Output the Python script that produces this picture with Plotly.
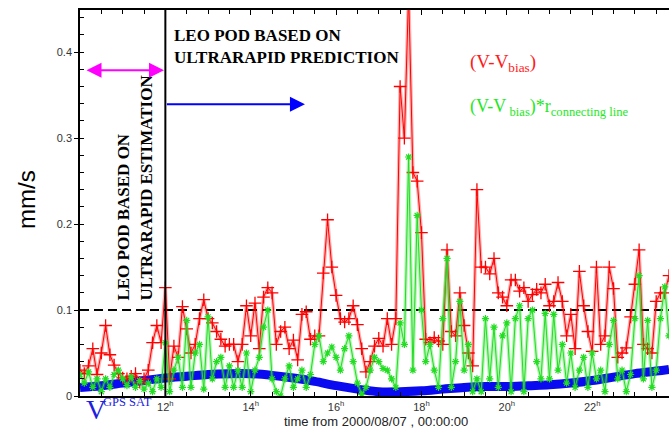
import numpy as np
import plotly.graph_objects as go

# ---------------- data ----------------
hours = np.round(10.0 + 0.1 * np.arange(139), 2)

red = [0.030, 0.026, 0.035, 0.055, 0.025, 0.050, 0.082, 0.048, 0.036, 0.026,
       0.021, 0.020, 0.023, 0.026, 0.016, 0.020, 0.030, 0.062, 0.082, 0.062,
       0.126, 0.020, 0.058, 0.045, 0.104, 0.078, 0.050, 0.060, 0.090, 0.112,
       0.090, 0.085, 0.075, 0.066, 0.058, 0.060, 0.060, 0.040, 0.060, 0.105,
       0.070, 0.108, 0.055, 0.115, 0.126, 0.120, 0.060, 0.075, 0.080, 0.055,
       0.065, 0.042, 0.095, 0.098, 0.066, 0.070, 0.070, 0.143, 0.205, 0.150,
       0.117, 0.090, 0.086, 0.090, 0.105, 0.083, 0.055, 0.028, 0.040, 0.058,
       0.067, 0.058, 0.090, 0.060, 0.090, 0.360, 0.300, 0.470, 0.260, 0.250,
       0.190, 0.066, 0.062, 0.068, 0.064, 0.060, 0.170, 0.075, 0.070, 0.120,
       0.082, 0.050, 0.035, 0.240, 0.150, 0.150, 0.142, 0.160, 0.120, 0.115,
       0.105, 0.135, 0.135, 0.122, 0.126, 0.110, 0.118, 0.124, 0.120, 0.130,
       0.105, 0.110, 0.132, 0.110, 0.070, 0.095, 0.055, 0.145, 0.105, 0.075,
       0.052, 0.150, 0.060, 0.070, 0.150, 0.125, 0.045, 0.050, 0.056, 0.092,
       0.130, 0.170, 0.060, 0.055, 0.050, 0.110, 0.120, 0.120, 0.140]

green = [0.025, 0.015, 0.028, 0.010, 0.020, 0.005, 0.020, 0.010, 0.025, 0.030,
         0.020, 0.012, 0.022, 0.010, 0.018, 0.008, 0.015, 0.005, 0.020, 0.010,
         0.062, 0.005, 0.030, 0.045, 0.010, 0.088, 0.010, 0.050, 0.060, 0.008,
         0.092, 0.020, 0.040, 0.045, 0.010, 0.035, 0.010, 0.030, 0.010, 0.050,
         0.005, 0.030, 0.045, 0.080, 0.100, 0.020, 0.005, 0.000, 0.020, 0.035,
         0.010, 0.020, 0.030, 0.010, 0.025, 0.060, 0.070, 0.040, 0.050, 0.057,
         0.045, 0.030, 0.055, 0.070, 0.040, 0.015, 0.002, 0.010, 0.030, 0.045,
         0.040, 0.032, 0.030, 0.020, 0.010, 0.085, 0.060, 0.278, 0.030, 0.210,
         0.100, 0.040, 0.060, 0.030, 0.010, 0.090, 0.160, 0.010, 0.040, 0.110,
         0.030, 0.060, 0.005, 0.020, 0.005, 0.090, 0.020, 0.080, 0.010, 0.070,
         0.085, 0.005, 0.090, 0.105, 0.005, 0.090, 0.100, 0.040, 0.020, 0.096,
         0.020, 0.095, 0.030, 0.060, 0.015, 0.050, 0.010, 0.030, 0.045, 0.010,
         0.050, 0.020, 0.030, 0.005, 0.060, 0.088, 0.020, 0.030, 0.005, 0.025,
         0.090, 0.140, 0.020, 0.088, 0.010, 0.030, 0.090, 0.127, 0.070]

gps_hours = [10.0, 10.5, 11.0, 11.5, 12.0, 12.5, 13.0, 13.5, 14.0, 14.5, 15.0,
             15.5, 16.0, 16.5, 17.0, 17.5, 18.0, 18.5, 19.0, 19.5, 20.0, 20.5,
             21.0, 21.5, 22.0, 22.5, 23.0, 23.5, 23.8]
gps_sat = [0.010, 0.012, 0.015, 0.018, 0.021, 0.023, 0.025, 0.026, 0.026, 0.024,
           0.021, 0.017, 0.012, 0.008, 0.005, 0.005, 0.006, 0.008, 0.010, 0.011,
           0.011, 0.012, 0.013, 0.015, 0.018, 0.022, 0.026, 0.029, 0.031]

x_tick_vals = [12, 14, 16, 18, 20, 22]
x_tick_text = ["12<sup>h</sup>", "14<sup>h</sup>", "16<sup>h</sup>",
               "18<sup>h</sup>", "20<sup>h</sup>", "22<sup>h</sup>"]
y_tick_vals = [0, 0.1, 0.2, 0.3, 0.4]
y_tick_text = ["0", "0.1", "0.2", "0.3", "0.4"]

# ---------------- figure ----------------
fig = go.Figure()

fig.add_trace(go.Scatter(x=gps_hours, y=gps_sat, mode="lines",
                         line=dict(color="#0a0af0", width=9, shape="spline"),
                         hoverinfo="skip"))

# red series (soft halo + crisp line with + markers)
fig.add_trace(go.Scatter(x=hours, y=red, mode="lines",
                         line=dict(color="rgba(255,0,0,0.30)", width=3.5),
                         hoverinfo="skip"))
fig.add_trace(go.Scatter(x=hours, y=red, mode="lines+markers",
                         line=dict(color="#ff0000", width=1),
                         marker=dict(symbol="cross-thin-open", size=9,
                                     line=dict(color="#ff1010", width=1.3))))

# green series
fig.add_trace(go.Scatter(x=hours, y=green, mode="lines",
                         line=dict(color="rgba(40,230,40,0.35)", width=3.5),
                         hoverinfo="skip"))
fig.add_trace(go.Scatter(x=hours, y=green, mode="lines+markers",
                         line=dict(color="#22dd22", width=1),
                         marker=dict(symbol="asterisk-open", size=6,
                                     line=dict(color="#11ee11", width=1.2))))

ax_font = dict(family="Liberation Sans, Arial, sans-serif", size=11, color="#333")

fig.update_xaxes(range=[10.0, 23.8], tickmode="array", tickvals=x_tick_vals,
                 ticktext=x_tick_text, ticks="inside", ticklen=5, tickcolor="black",
                 showline=True, linecolor="black", linewidth=1.5, mirror="ticks",
                 showgrid=False, zeroline=False, tickfont=ax_font,
                 minor=dict(tickmode="linear", tick0=10, dtick=0.5, ticks="inside",
                            ticklen=4, tickcolor="black", showgrid=False))
fig.update_yaxes(range=[0, 0.449], tickmode="array", tickvals=y_tick_vals,
                 ticktext=y_tick_text, ticks="outside", ticklen=4, tickcolor="black",
                 showline=True, linecolor="black", linewidth=1.5,
                 showgrid=False, zeroline=False, tickfont=ax_font,
                 minor=dict(tickmode="linear", tick0=0, dtick=0.02, ticks="inside",
                            ticklen=4, tickcolor="black", showgrid=False))

serif = "Liberation Serif, Times New Roman, serif"
serif_b = dict(family=serif, size=17, color="black", weight="bold")

annotations = [
    dict(text="mm/s", xref="paper", yref="paper", x=-0.092, y=0.51,
         textangle=-90, showarrow=False, xanchor="center", yanchor="middle",
         font=dict(family="Liberation Sans, Arial, sans-serif", size=24, color="black")),
    dict(text="time from 2000/08/07 , 00:00:00", xref="paper", yref="paper",
         x=0.5025, y=-0.065, showarrow=False, xanchor="center", yanchor="middle",
         font=dict(family="Liberation Sans, Arial, sans-serif", size=13, color="#222")),
    dict(text="LEO POD BASED ON<br>ULTRARAPID PREDICTION", xref="paper",
         yref="paper", x=0.1562, y=0.9067, showarrow=False, xanchor="left",
         yanchor="middle", align="left", font=serif_b),
    dict(text="LEO POD BASED ON<br>ULTRARAPID ESTIMATION", xref="paper",
         yref="paper", x=0.0934, y=0.540, textangle=-90, showarrow=False,
         xanchor="center", yanchor="middle", align="left", font=serif_b),
    dict(text="(V-V<sub>bias</sub>)", xref="paper", yref="paper", x=0.6587,
         y=0.8627, showarrow=False, xanchor="left", yanchor="middle",
         font=dict(family=serif, size=19, color="#ff1a1a")),
    dict(text="(V-V<sub> bias</sub>)*r<sub>connecting line</sub>", xref="paper",
         yref="paper", x=0.6587, y=0.7487, showarrow=False, xanchor="left",
         yanchor="middle", font=dict(family=serif, size=18, color="#1ee81e")),
    dict(text="V", xref="paper", yref="paper", x=0.006, y=-0.036,
         showarrow=False, xanchor="left", yanchor="middle",
         font=dict(family=serif, size=28, color="#1f1fe0")),
    dict(text="GPS SAT", xref="paper", yref="paper", x=0.036, y=-0.016,
         showarrow=False, xanchor="left", yanchor="middle",
         font=dict(family=serif, size=12.5, color="#1f1fe0")),
    # magenta double arrow
    dict(text="", x=11.968, y=0.379, ax=10.117, ay=0.379, xref="x", yref="y",
         axref="x", ayref="y", showarrow=True, arrowhead=2, startarrowhead=2,
         arrowside="end+start", arrowsize=1.5, startarrowsize=1.5,
         arrowwidth=2, arrowcolor="#ff00ff", standoff=0, startstandoff=0),
    # blue arrow
    dict(text="", x=15.27, y=0.3395, ax=12.0, ay=0.3395, xref="x", yref="y",
         axref="x", ayref="y", showarrow=True, arrowhead=2, arrowsize=1.5,
         arrowwidth=2, arrowcolor="#0000ff", standoff=0),
]

shapes = [
    dict(type="line", xref="paper", yref="y", x0=0, x1=1, y0=0.1, y1=0.1,
         line=dict(color="black", width=2, dash="9px,5px"), layer="below"),
    dict(type="line", xref="x", yref="paper", x0=12, x1=12, y0=0, y1=1,
         line=dict(color="black", width=2), layer="above"),
]

fig.update_layout(width=669, height=429, margin=dict(l=80, r=0, t=10, b=33),
                  paper_bgcolor="white", plot_bgcolor="white", showlegend=False,
                  annotations=annotations, shapes=shapes)

fig.write_html("out.html")
